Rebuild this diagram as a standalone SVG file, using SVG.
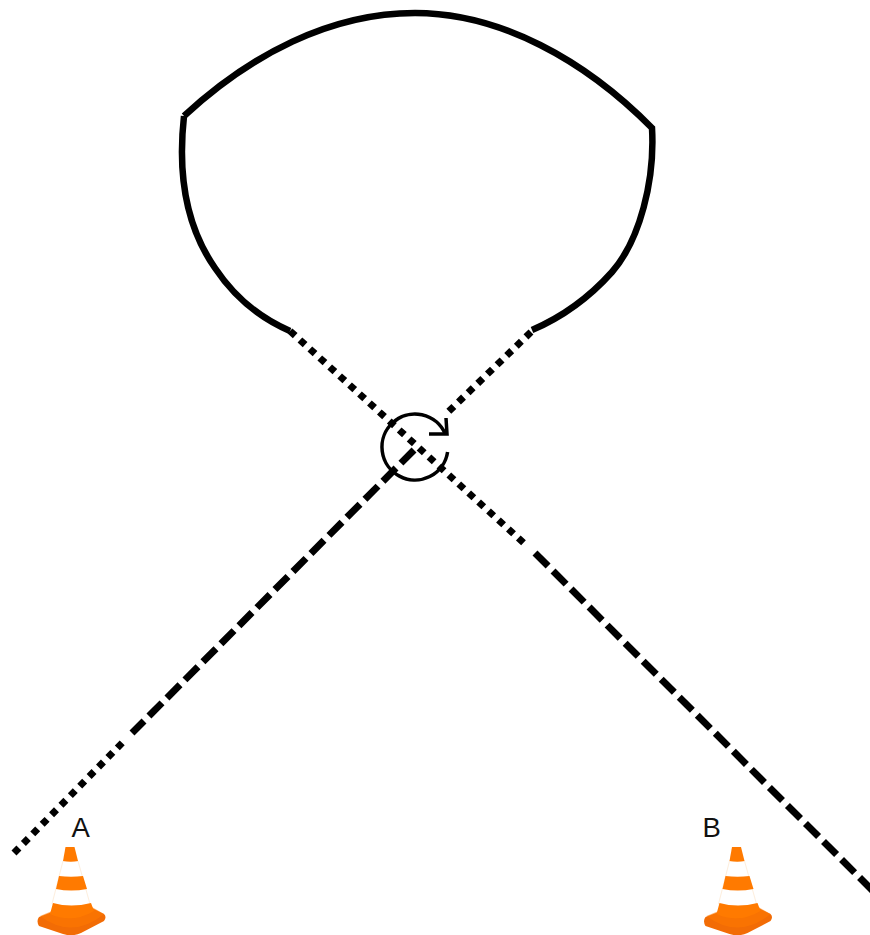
<svg xmlns="http://www.w3.org/2000/svg" width="870" height="935" viewBox="0 0 870 935">
<style>
.t{fill:none;stroke:#000;stroke-width:6.500}
.dot{fill:none;stroke:#000;stroke-width:7;stroke-dasharray:7 6.400}
.dash{fill:none;stroke:#000;stroke-width:7;stroke-dasharray:18.500 7}
text{font-family:"Liberation Sans",Arial,sans-serif;font-size:27.500px;fill:#111}
.o1{fill:#ff7a00}.o2{fill:#f26c05}
.w{fill:#fff;stroke:#fdeedd;stroke-width:1}
</style>
<defs>
<g id="cone">
<path class="o2" d="M52 912L39 917Q36 921 39 926L63 934Q72 937 81 933L104 921Q107 917 104 914L92 908Q72 922 52 912Z"/>
<path class="o1" d="M40 916L52 911L92 907L104 914Q72 940 40 916Z" opacity="0.55"/>
<path class="w" d="M63 861H78L90 904Q71 911 52 904Z"/>
<path class="o1" d="M65.500 847H74.500L78 861Q71 862.500 63 861Z"/>
<path class="o1" d="M59 876Q71 877.500 83 876L87 889Q71 892 56 889Z"/>
<path class="o1" d="M53 903Q71 908 91 903L94 911Q72 924 50 914Z"/>
</g>
</defs>
<g id="connectors">
<path class="t" d="M184 116C250 55 330 13 415 13C500 13 585 60 652 128C655 180 640 240 612 272C587 300 560 318 532 330"/>
<path class="t" d="M184 116C178 170 185 225 215 268C235 298 260 318 290 331"/>
<path class="dot" d="M290 331L526 545"/>
<path class="dot" d="M531 332L445 415"/>
<path class="dash" d="M414 450L132 733"/>
<path class="dot" d="M14 853L126 739"/>
<path class="dash" d="M535 553L875 893"/>
</g>
<g id="rotation">
<path fill="none" stroke="#000" stroke-width="3.500" d="M447.600 452A33 33 0 1 1 445.300 434"/>
<path fill="none" stroke="#000" stroke-width="3.500" d="M446 418L447 434L429 434"/>
</g>
<g id="cone-a"><use href="#cone"/><text x="71.500" y="837">A</text></g>
<g id="cone-b"><use href="#cone" x="666.500"/><text x="702.500" y="837">B</text></g>
</svg>
